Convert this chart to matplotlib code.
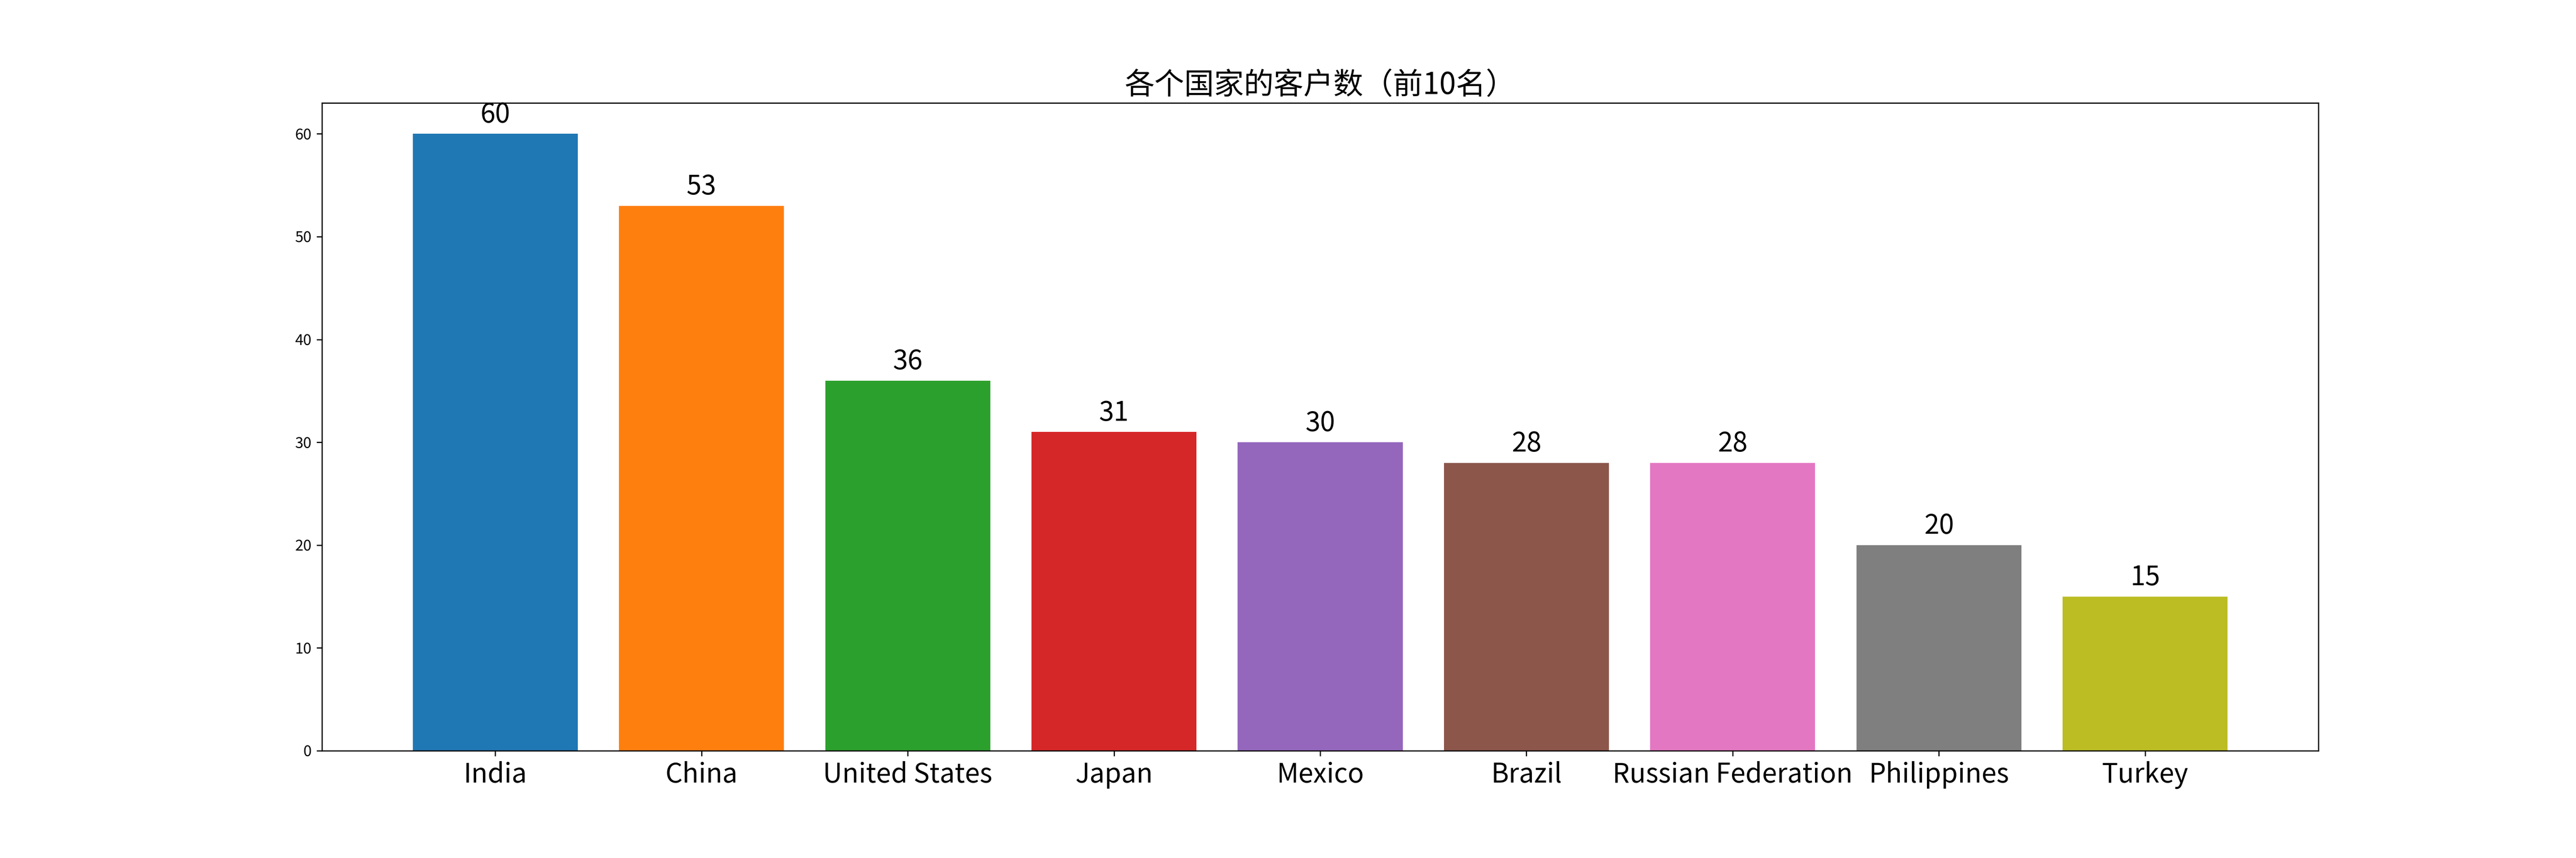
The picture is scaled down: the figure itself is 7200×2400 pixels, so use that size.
import matplotlib
matplotlib.use("Agg")
import matplotlib.pyplot as plt

plt.rcParams['font.family'] = ['Noto Sans CJK SC', 'DejaVu Sans']
plt.rcParams['axes.unicode_minus'] = False

countries = ['India', 'China', 'United States', 'Japan', 'Mexico', 'Brazil',
             'Russian Federation', 'Philippines', 'Turkey']
counts = [60, 53, 36, 31, 30, 28, 28, 20, 15]
colors = ['C0', 'C1', 'C2', 'C3', 'C4', 'C5', 'C6', 'C7', 'C8']

fig, ax = plt.subplots(figsize=(24, 8), dpi=300)
fig.subplots_adjust(bottom=0.125)
ax.bar(countries, counts, color=colors)

for i, v in enumerate(counts):
    ax.text(i, v + 0.5, str(v), ha='center', va='bottom', fontsize=18)

ax.set_title('各个国家的客户数（前10名）', fontsize=20)
ax.tick_params(axis='x', labelsize=18)

fig.savefig('out.png', dpi=300)
